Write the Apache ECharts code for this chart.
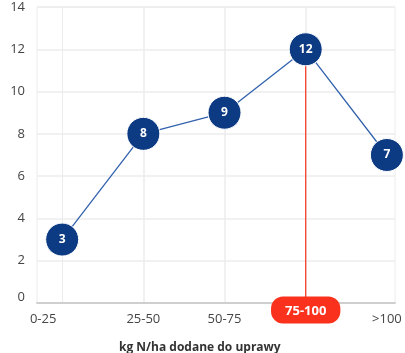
<!DOCTYPE html>
<html>
<head>
<meta charset="utf-8">
<script src="https://cdn.jsdelivr.net/npm/echarts@6/dist/echarts.min.js"></script>
<style>
  html, body { margin: 0; padding: 0; background: #fff; }
  #chart { width: 405px; height: 353px; }
</style>
</head>
<body>
<div id="chart"></div>
<script>
// dane z wykresu
const categories = ['0-25', '25-50', '50-75', '75-100', '>100'];
const counts = [3, 8, 9, 12, 7];
const yTicks = [0, 2, 4, 6, 8, 10, 12, 14];
const highlight = '75-100';

const hlIndex = categories.indexOf(highlight);
const points = counts.map(function (v, i) { return [i, v]; });
// pionowa czerwona linia od punktu do osi
const hlLine = [[hlIndex, counts[hlIndex]], [hlIndex, yTicks[0]]];

const chart = echarts.init(document.getElementById('chart'));
const font = '"Open Sans", "Noto Sans", sans-serif';
const gridGrey = '#ececec';
const red = '#fa321d';

const option = {
    animation: false,
    textStyle: { fontFamily: font },
    title: {
        text: 'kg N/ha dodane do uprawy',
        left: 114,
        top: 337,
        textStyle: { fontSize: 12, fontWeight: 'bold', color: '#333', fontFamily: font }
    },
    grid: {
        left: 37, right: 10, top: 7, bottom: 50,
        containLabel: false,
        outerBoundsMode: 'none',
        show: true, borderColor: gridGrey, borderWidth: 1
    },
    xAxis: {
        type: 'value',
        min: -0.31,
        max: 4.1,
        axisLine: { show: true, lineStyle: { color: '#cfcfcf', width: 2 } },
        axisTick: { show: false },
        splitLine: { show: false },
        axisLabel: {
            customValues: categories.map(function (c, i) { return i; }),
            margin: 0,
            formatter: function (v) {
                const i = Math.round(v);
                if (i === hlIndex) return '{hl|' + categories[i] + '}';
                if (i === 0) return '{first|' + categories[i] + '}';
                return '{n|' + categories[i] + '}';
            },
            rich: {
                n: { fontSize: 13, color: '#444', lineHeight: 32, fontFamily: font },
                first: { fontSize: 13, color: '#444', lineHeight: 32, padding: [0, 38, 0, 0], fontFamily: font },
                hl: {
                    fontSize: 13, fontWeight: 'bold', color: '#fff', fontFamily: font,
                    backgroundColor: red, borderRadius: 12,
                    padding: [8, 14, 5, 14], lineHeight: 14, height: 14
                }
            }
        }
    },
    yAxis: {
        type: 'value',
        min: yTicks[0],
        max: yTicks[yTicks.length - 1],
        interval: yTicks[1] - yTicks[0],
        name: 'Liczba badań',
        nameLocation: 'middle',
        nameGap: 27,
        nameRotate: 90,
        nameTextStyle: { fontSize: 13, color: '#444', padding: [0, 20, 0, 0], fontFamily: font },
        axisLine: { show: true, lineStyle: { color: gridGrey } },
        axisTick: { show: false },
        splitLine: { lineStyle: { color: gridGrey, width: 1.5 } },
        axisLabel: {
            margin: 12,
            formatter: function (v) { return v === 0 ? '{z|0}' : '{n|' + v + '}'; },
            rich: {
                n: { fontSize: 13, color: '#444', fontFamily: font },
                z: { fontSize: 13, color: '#444', padding: [0, 0, 12, 0], fontFamily: font }
            }
        }
    },
    series: [
        {
            type: 'line',
            data: hlLine,
            z: 1,
            symbol: 'none',
            silent: true,
            itemStyle: { color: red },
            lineStyle: { color: red, width: 1.2 },
            markLine: {
                silent: true,
                symbol: 'none',
                z: 0,
                label: { show: false },
                lineStyle: { color: gridGrey, width: 1.5, type: 'solid' },
                data: [{ xAxis: 1 }, { xAxis: 2 }, { xAxis: 3 }]
            }
        },
        {
            type: 'line',
            data: points,
            z: 3,
            symbol: 'circle',
            symbolSize: 33,
            lineStyle: { color: '#3262ad', width: 1.3 },
            itemStyle: { color: '#0c3a83', borderColor: '#fff', borderWidth: 1 },
            label: {
                show: true,
                position: 'inside',
                color: '#fff',
                fontWeight: 'bold',
                fontSize: 12,
                fontFamily: font
            }
        }
    ]
};

chart.setOption(option);
</script>
</body>
</html>
